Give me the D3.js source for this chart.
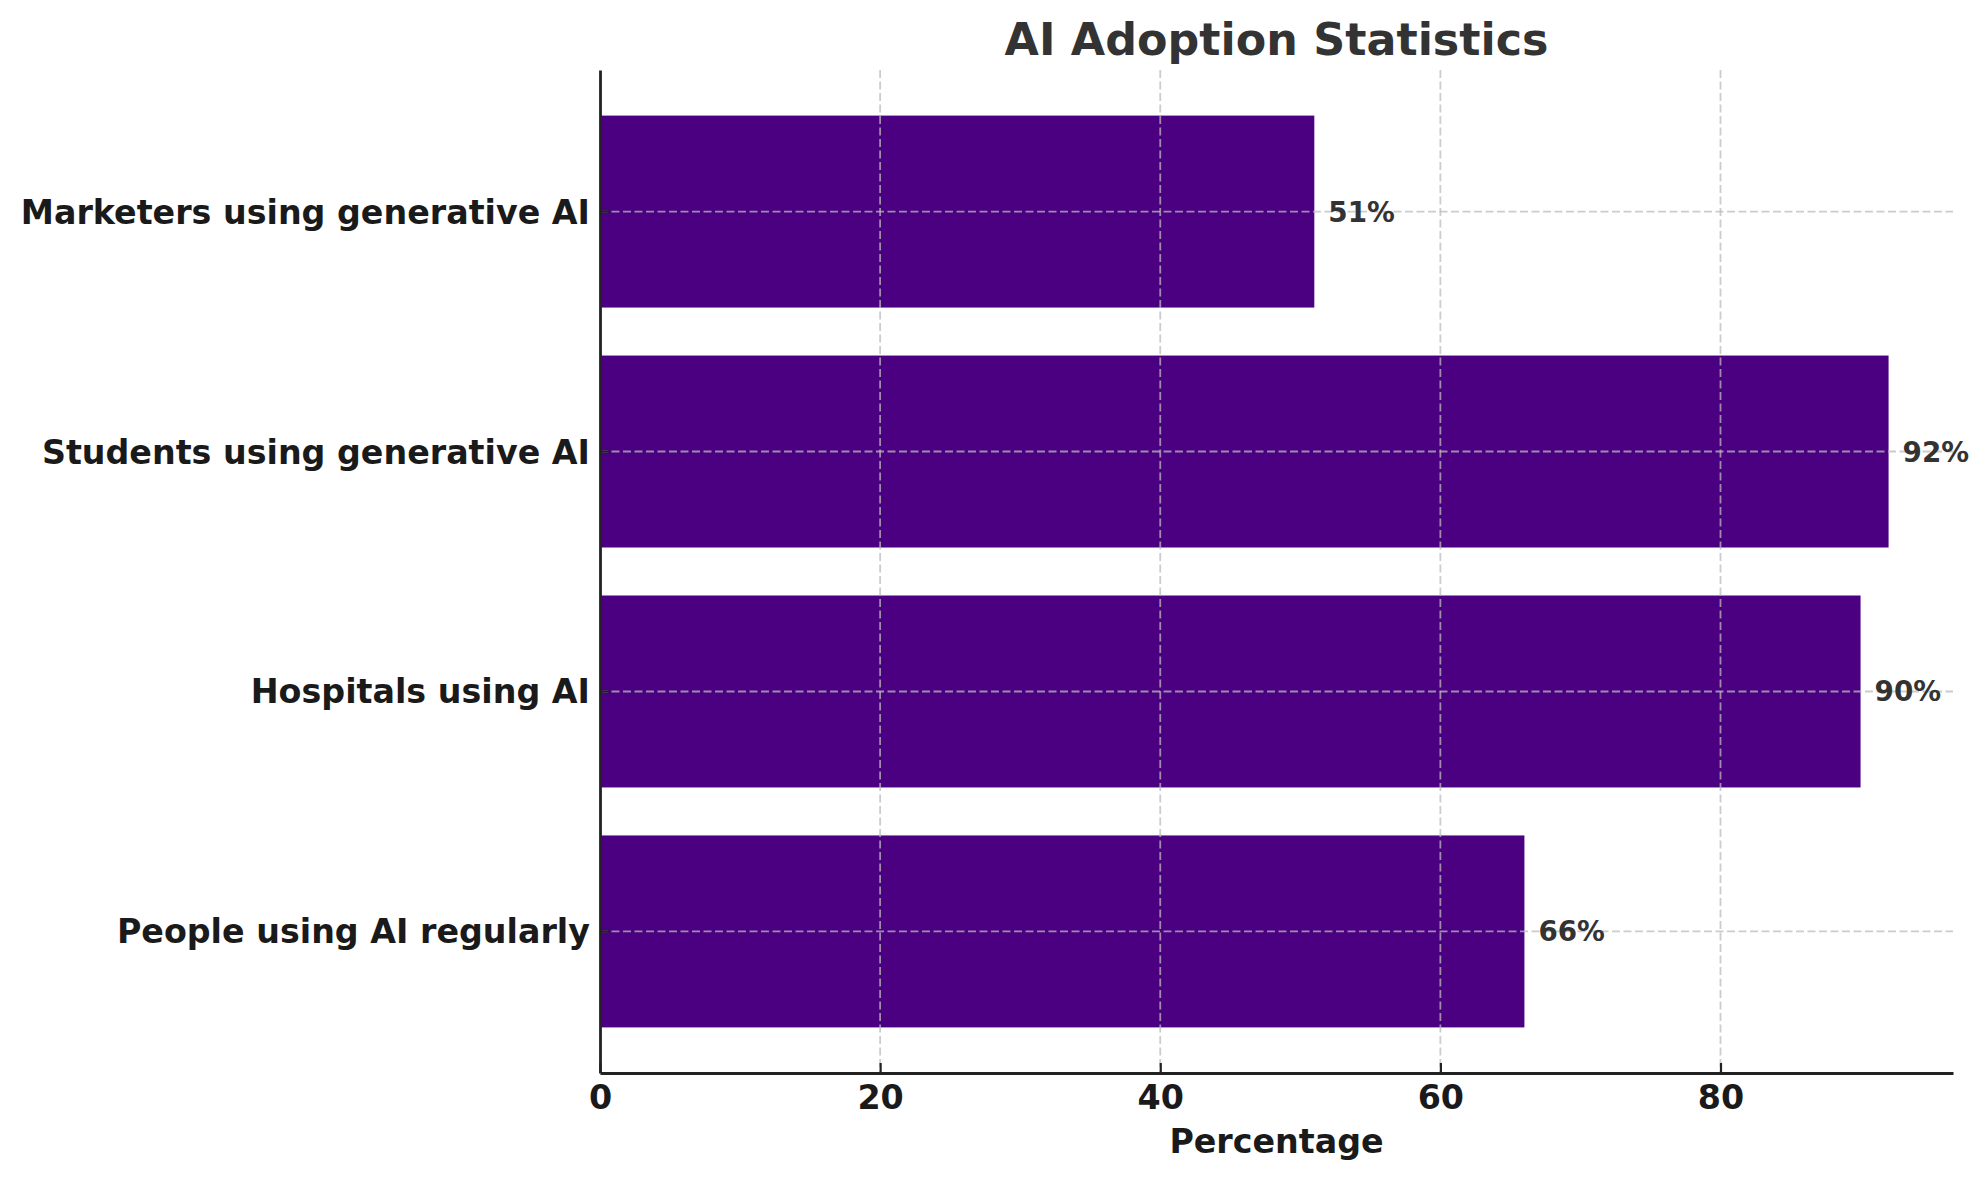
<!DOCTYPE html>
<html>
<head>
<meta charset="utf-8">
<script src="https://cdn.jsdelivr.net/npm/d3@7"></script>
<style>
  html, body { margin: 0; padding: 0; background: #fff; }
  svg { display: block; font-family: "DejaVu Sans", sans-serif; }
</style>
</head>
<body>
<svg id="chart"></svg>
<script>
// data, bottom to top
const categories = [
  'People using AI regularly',
  'Hospitals using AI',
  'Students using generative AI',
  'Marketers using generative AI',
];
const values = [66, 90, 92, 51];
const xTicks = [0, 20, 40, 60, 80];

const width = 1987;
const height = 1180;
const padding = { top: 70, right: 34, bottom: 107, left: 600 };
const innerW = width - padding.left - padding.right;
const innerH = height - padding.top - padding.bottom;
const barColor = '#4b0082';

const svg = d3.select('#chart')
  .attr('width', width)
  .attr('height', height);

const g = svg.append('g')
  .attr('transform', `translate(${padding.left}, ${padding.top})`);

const x = d3.scaleLinear()
  .domain([0, d3.max(values) * 1.05])
  .range([0, innerW]);

const y = d3.scaleBand()
  .domain(categories)
  .range([innerH, 0])
  .paddingInner(0.2)
  .paddingOuter(0.19);

// bars
g.selectAll('rect.bar')
  .data(categories)
  .join('rect')
  .attr('class', 'bar')
  .attr('x', x(0))
  .attr('y', d => y(d))
  .attr('width', (d, i) => x(values[i]) - x(0))
  .attr('height', y.bandwidth())
  .attr('fill', barColor);

// grid sits above the bars, like matplotlib's default
const grid = g.append('g')
  .attr('stroke', '#bbbbbb')
  .attr('stroke-opacity', 0.75)
  .attr('stroke-width', 1.8)
  .attr('stroke-dasharray', '8,3.5');

grid.selectAll('line.vx')
  .data(xTicks.filter(t => t > 0))
  .join('line')
  .attr('x1', d => x(d))
  .attr('x2', d => x(d))
  .attr('y1', 0)
  .attr('y2', innerH);

grid.selectAll('line.hy')
  .data(categories)
  .join('line')
  .attr('x1', 0)
  .attr('x2', innerW)
  .attr('y1', d => y(d) + y.bandwidth() / 2)
  .attr('y2', d => y(d) + y.bandwidth() / 2);

// value labels
g.selectAll('text.val')
  .data(categories)
  .join('text')
  .attr('class', 'val')
  .attr('x', (d, i) => x(values[i] + 1))
  .attr('y', d => y(d) + y.bandwidth() / 2)
  .attr('dy', '0.36em')
  .attr('font-size', 27.8)
  .attr('font-weight', 'bold')
  .attr('fill', '#333333')
  .text((d, i) => `${values[i]}%`);

// axes, ticks pointing inward
const axisX = g.append('g')
  .attr('transform', `translate(0, ${innerH})`)
  .call(d3.axisBottom(x).tickValues(xTicks).tickSizeInner(-10).tickSizeOuter(0).tickPadding(12));

const axisY = g.append('g')
  .call(d3.axisLeft(y).tickSizeInner(-10).tickSizeOuter(0).tickPadding(10));

[axisX, axisY].forEach((a) => {
  a.select('.domain').attr('stroke', '#222222').attr('stroke-width', 2.8);
  a.selectAll('.tick line').attr('stroke', '#222222').attr('stroke-width', 2.2);
  a.selectAll('.tick text')
    .attr('font-family', '"DejaVu Sans", sans-serif')
    .attr('font-size', 33.3)
    .attr('font-weight', 'bold')
    .attr('fill', '#1a1a1a');
});

axisX.selectAll('.tick text').attr('dy', '0.71em');
axisY.selectAll('.tick text').attr('dy', '0.36em');

// axis title
svg.append('text')
  .attr('x', padding.left + innerW / 2)
  .attr('y', 1153)
  .attr('text-anchor', 'middle')
  .attr('font-size', 33.3)
  .attr('font-weight', 'bold')
  .attr('fill', '#1a1a1a')
  .text('Percentage');

// chart title
svg.append('text')
  .attr('x', padding.left + innerW / 2)
  .attr('y', 55)
  .attr('text-anchor', 'middle')
  .attr('font-size', 44.4)
  .attr('font-weight', 'bold')
  .attr('fill', '#333333')
  .text('AI Adoption Statistics');
</script>
</body>
</html>
